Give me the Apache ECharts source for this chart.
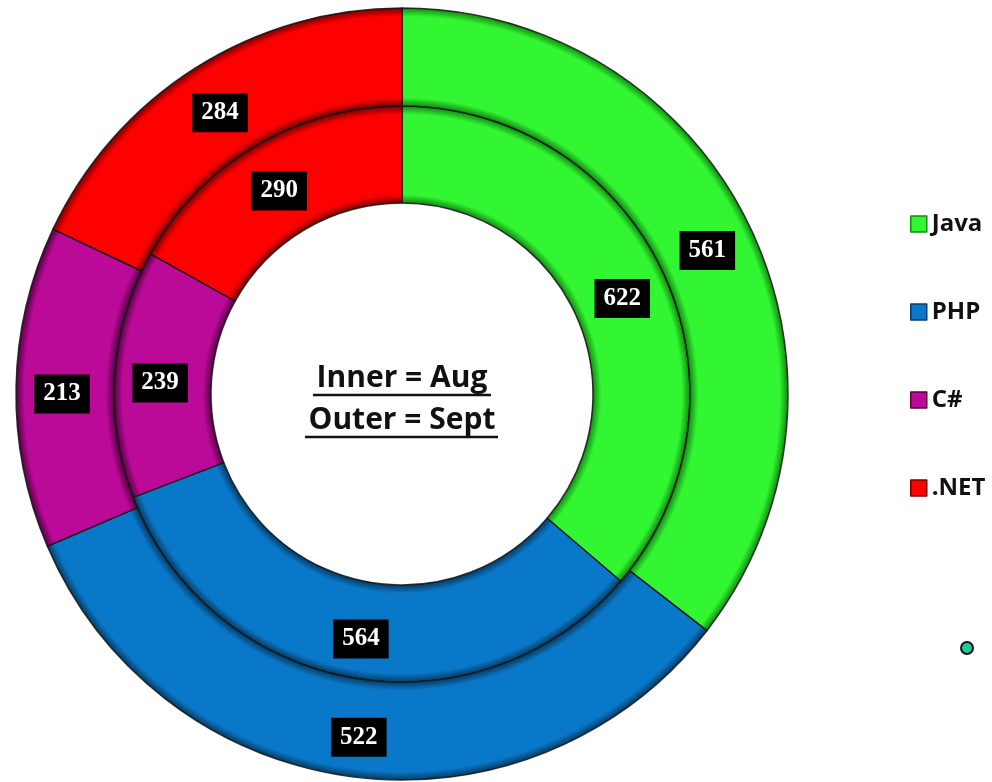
<!DOCTYPE html>
<html>
<head>
<meta charset="utf-8">
<script src="https://cdn.jsdelivr.net/npm/echarts@6/dist/echarts.min.js"></script>
<style>
  html, body { margin: 0; padding: 0; background: #fff; }
  #chart { width: 992px; height: 782px; }
</style>
</head>
<body>
<div id="chart"></div>
<script>
// data
const languages = ['Java', 'PHP', 'C#', '.NET'];
const augValues = [622, 564, 239, 290];   // inner ring
const septValues = [561, 522, 213, 284];  // outer ring
const baseColors = ['#33f633', '#0a78c8', '#bc0a98', '#ff0000'];
const edgeColors = ['#118a11', '#043c66', '#560046', '#7a0000'];

const CX = 402, CY = 394;
const R_HOLE = 191, R_MID = 288, R_OUT = 386;

const chart = echarts.init(document.getElementById('chart'));

// bevel look: darker rims at the ring edges
function ringFill(i, r0, r1) {
    const a = r0 / R_OUT, b = r1 / R_OUT, w = 0.022;
    return new echarts.graphic.RadialGradient(CX, CY, R_OUT, [
        { offset: a, color: edgeColors[i] },
        { offset: a + w, color: baseColors[i] },
        { offset: b - w, color: baseColors[i] },
        { offset: b, color: edgeColors[i] }
    ], true);
}

function ringData(values, r0, r1) {
    return values.map((v, i) => ({
        name: languages[i],
        value: v,
        itemStyle: { color: ringFill(i, r0, r1) }
    }));
}

const labelStyle = {
    show: true,
    position: 'inside',
    formatter: '{c}',
    color: '#fff',
    backgroundColor: '#000',
    fontFamily: 'Liberation Serif',
    fontWeight: 'bold',
    fontSize: 25,
    padding: [8, 9, 6, 9],
    offset: [0, 6]
};

const centerFont = 'bold 30px "Open Sans"';

chart.setOption({
    animation: false,
    legend: {
        orient: 'vertical',
        left: 905,
        top: 204,
        itemGap: 58,
        itemWidth: 16,
        itemHeight: 16,
        icon: 'rect',
        selectedMode: false,
        textStyle: {
            fontFamily: 'Open Sans',
            fontWeight: 'bold',
            fontSize: 24,
            lineHeight: 30,
            color: '#111'
        },
        data: languages.map((n, i) => ({
            name: n,
            itemStyle: { color: baseColors[i], borderColor: edgeColors[i], borderWidth: 1.5 }
        }))
    },
    graphic: [
        { type: 'text', x: CX, y: 378, style: { text: 'Inner = Aug', font: centerFont, fill: '#111', align: 'center', verticalAlign: 'middle', textAlign: 'center', textVerticalAlign: 'middle' } },
        { type: 'text', x: CX, y: 420, style: { text: 'Outer = Sept', font: centerFont, fill: '#111', align: 'center', verticalAlign: 'middle', textAlign: 'center', textVerticalAlign: 'middle' } },
        { type: 'line', shape: { x1: 313, y1: 395, x2: 491, y2: 395 }, style: { stroke: '#111', lineWidth: 2.5 } },
        { type: 'line', shape: { x1: 305, y1: 437, x2: 498, y2: 437 }, style: { stroke: '#111', lineWidth: 2.5 } },
        { type: 'circle', shape: { cx: 967, cy: 648, r: 6 }, style: { fill: '#1fc99c', stroke: '#151515', lineWidth: 2 } }
    ],
    series: [
        {
            name: 'Aug',
            type: 'pie',
            center: [CX, CY],
            radius: [R_HOLE, R_MID],
            startAngle: 90,
            clockwise: true,
            avoidLabelOverlap: false,
            emphasis: { disabled: true },
            itemStyle: { borderColor: 'rgba(20,20,20,0.85)', borderWidth: 1.5 },
            label: labelStyle,
            labelLine: { show: false },
            data: ringData(augValues, R_HOLE, R_MID)
        },
        {
            name: 'Sept',
            type: 'pie',
            center: [CX, CY],
            radius: [R_MID, R_OUT],
            startAngle: 90,
            clockwise: true,
            avoidLabelOverlap: false,
            emphasis: { disabled: true },
            itemStyle: { borderColor: 'rgba(20,20,20,0.85)', borderWidth: 1.5 },
            label: labelStyle,
            labelLine: { show: false },
            data: ringData(septValues, R_MID, R_OUT)
        }
    ]
});
</script>
</body>
</html>
